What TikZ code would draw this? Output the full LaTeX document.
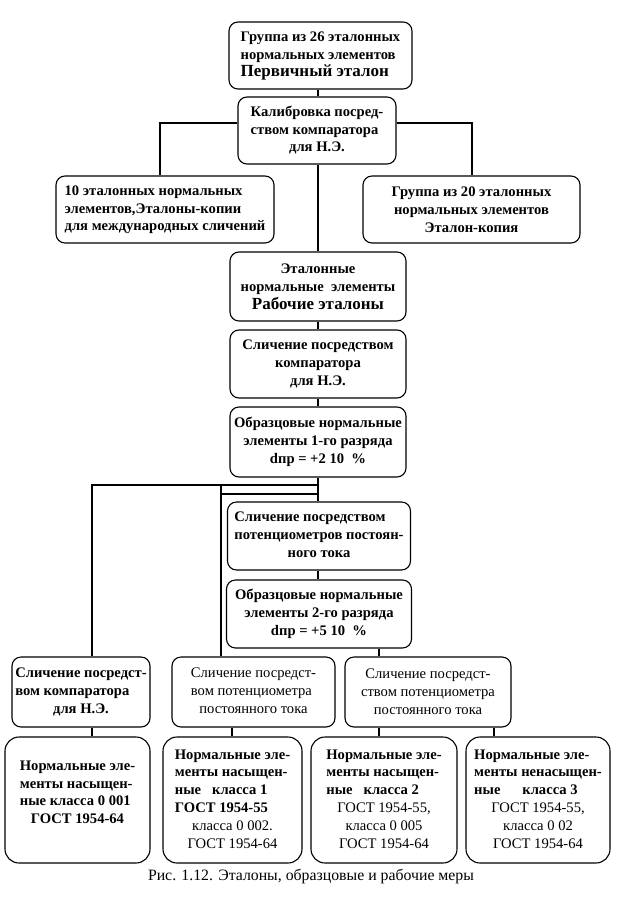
\documentclass[tikz,border=0pt]{standalone}
\usepackage{fontspec}
\setmainfont{Liberation Serif}
\newcommand{\lefttab}[1]{\begin{tabular}{@{}l@{}}#1\end{tabular}}
\newcommand{\ctrline}[1]{\multicolumn{1}{@{}c@{}}{#1}}
\newcommand{\largetext}[1]{{\fontsize{17}{20}\selectfont #1}}
\tikzset{
  box/.style={draw, line width=1.1pt, rounded corners=9pt, inner sep=0pt, align=center,
    font=\fontsize{14.6}{17.8}\selectfont\bfseries},
  thin box/.style={box, font=\fontsize{14.6}{17.8}\selectfont},
  tall box/.style={box, rounded corners=14pt},
  conn/.style={line width=1.1pt},
}
\begin{document}
\begin{tikzpicture}[x=1pt,y=-1pt]
\useasboundingbox (0,0) rectangle (622,900);
% top part
\node[box, minimum width=183pt, minimum height=67pt] (b1) at (320.5,55.5)
  {\lefttab{Группа из 26 эталонных\\нормальных элементов\\\largetext{Первичный эталон}}};
\node[box, minimum width=158pt, minimum height=67pt] (b2) at (317,130.5)
  {\lefttab{Калибровка посред-\\ством компаратора\\\ctrline{для Н.Э.}}};
\node[box, minimum width=218pt, minimum height=67pt] (b3) at (165,209.5)
  {\lefttab{10 эталонных нормальных\\элементов,Эталоны-копии\\для международных сличений}};
\node[box, minimum width=217pt, minimum height=67pt] (b4) at (471.5,209.5)
  {Группа из 20 эталонных\\нормальных элементов\\Эталон-копия};
\node[box, minimum width=176pt, minimum height=69pt] (b5) at (318,286.5)
  {Эталонные\\нормальные\ \ элементы\\\largetext{Рабочие эталоны}};
\node[box, minimum width=176pt, minimum height=68pt] (b6) at (318,364)
  {Сличение посредством\\компаратора\\для Н.Э.};
\node[box, minimum width=176pt, minimum height=70pt] (b7) at (318,442)
  {Образцовые нормальные\\элементы 1-го разряда\\dпр = +2 10\ \ \%};
\node[box, minimum width=183pt, minimum height=68pt] (b10) at (319,536)
  {\lefttab{Сличение посредством\\потенциометров постоян-\\\ctrline{ного тока}}};
\node[box, minimum width=185pt, minimum height=68pt] (b11) at (319,614)
  {Образцовые нормальные\\элементы 2-го разряда\\dпр = +5 10\ \ \%};
% row 1
\node[box, minimum width=138pt, minimum height=70pt] (r1a) at (81,692)
  {\lefttab{Сличение посредст-\\вом компаратора\\\ctrline{для Н.Э.}}};
\node[thin box, minimum width=163pt, minimum height=70pt] (r1b) at (253.5,692)
  {\lefttab{Сличение посредст-\\вом потенциометра\\\ctrline{постоянного тока}}};
\node[thin box, minimum width=166pt, minimum height=70pt] (r1c) at (428,692)
  {Сличение посредст-\\ством потенциометра\\постоянного тока};
% row 2
\node[tall box, minimum width=145pt, minimum height=126pt] (r2a) at (77.5,800)
  {\lefttab{Нормальные эле-\\менты насыщен-\\ные класса 0 001\\\ctrline{ГОСТ 1954-64}}\\[12pt]};
\node[tall box, minimum width=139pt, minimum height=126pt] (r2b) at (232.5,800)
  {\lefttab{Нормальные эле-\\менты насыщен-\\ные\ \ \ класса 1\\ГОСТ 1954-55\\\ctrline{\mdseries класса 0 002.}\\\ctrline{\mdseries ГОСТ 1954-64}}};
\node[tall box, minimum width=146pt, minimum height=126pt] (r2c) at (384,800)
  {\lefttab{Нормальные эле-\\менты насыщен-\\ные\ \ \ класса 2\\\ctrline{\mdseries ГОСТ 1954-55,}\\\ctrline{\mdseries класса 0 005}\\\ctrline{\mdseries ГОСТ 1954-64}}};
\node[tall box, minimum width=144pt, minimum height=126pt] (r2d) at (538,800)
  {\lefttab{Нормальные эле-\\менты ненасыщен-\\ные\ \ \ \ \ \ класса 3\\\ctrline{\mdseries ГОСТ 1954-55,}\\\ctrline{\mdseries класса 0 02}\\\ctrline{\mdseries ГОСТ 1954-64}}};
% caption
\node[font=\fontsize{15.8}{18}\selectfont] (cap) at (311,877) {Рис. 1.12. Эталоны, образцовые и рабочие меры};
% junction coordinates
\coordinate (j1) at (221,485);
\coordinate (j2) at (221,494);
% connectors
\draw[conn] (b1.south -| 318,0) -- (b2.north -| 318,0);
\draw[conn] (b2.west |- 0,123) -| (b3.north -| 160,0);
\draw[conn] (b2.east |- 0,123) -| (b4.north -| 472,0);
\draw[conn] (b2.south -| 318,0) -- (b5.north -| 318,0);
\draw[conn] (b5.south -| 318,0) -- (b6.north -| 318,0);
\draw[conn] (b6.south -| 318,0) -- (b7.north -| 318,0);
\draw[conn] (b7.south -| 318,0) -- (b10.north -| 318,0);
\draw[conn] (b7.south |- 0,485) -| (r1a.north -| 92,0);
\draw[conn] (j1) -- (r1b.north -| j1);
\draw[conn] (b7.south |- 0,494) -- (j2);
\draw[conn] (b10.south -| 318,0) -- (b11.north -| 318,0);
\draw[conn] (b11.south -| 379,0) -- (r1c.north -| 379,0);
\draw[conn] (r1a.south -| 92,0) -- (r2a.north -| 92,0);
\draw[conn] (r1b.south -| 232,0) -- (r2b.north -| 232,0);
\draw[conn] (r1c.south -| 379,0) -- (r2c.north -| 379,0);
\draw[conn] (r1c.south -| 494,0) -- (r2d.north -| 494,0);
\end{tikzpicture}
\end{document}
